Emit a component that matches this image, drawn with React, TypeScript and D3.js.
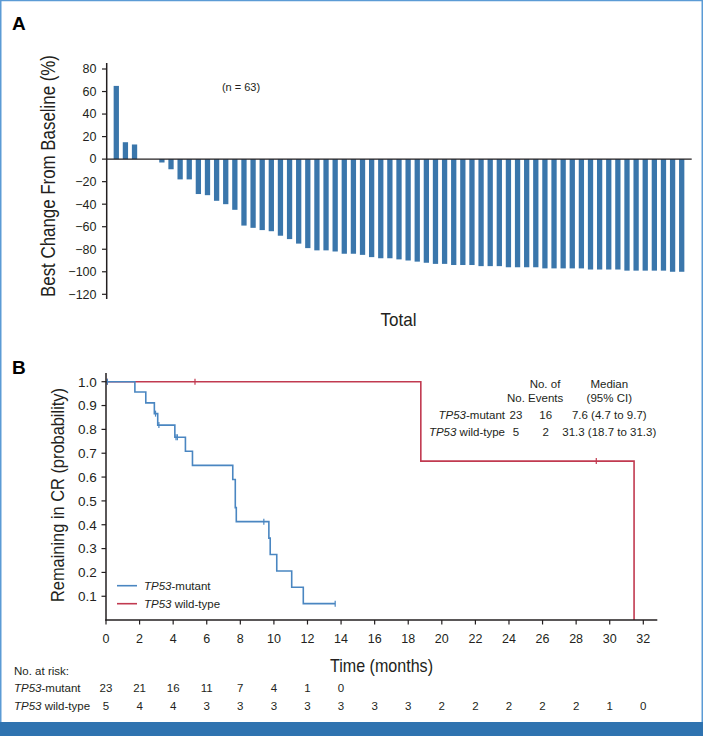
import React from "react";
import * as d3 from "d3";

// ---------- Panel A data ----------
const waterfallValues: number[] = [
  65, 15, 13, 0, 0, -3, -9, -18, -18, -31,
  -32, -37, -40, -45, -59, -61, -63, -64, -68, -71,
  -75, -79, -81, -81, -82, -84, -84, -85, -87, -88,
  -88, -89, -90, -91, -92, -93, -93, -94, -94, -94,
  -95, -95, -95, -96, -96, -96, -96, -97, -97, -97,
  -97, -97, -98, -98, -98, -98, -99, -99, -99, -99,
  -99, -100, -100,
];
const waterfallTicks: number[] = [80, 60, 40, 20, 0, -20, -40, -60, -80, -100, -120];

// ---------- Panel B data ----------
const mutantStepTimes: number[] = [0, 1.72, 2.37, 2.88, 3.08, 4.1, 4.73, 5.15, 7.55, 7.7, 7.76, 9.7, 9.78, 10.17, 11.06, 11.75];
const mutantStepSurv: number[] = [1.0, 0.957, 0.911, 0.866, 0.818, 0.767, 0.708, 0.649, 0.59, 0.472, 0.413, 0.344, 0.275, 0.206, 0.138, 0.069];
const mutantEnd = 13.65;
const mutantCensors: number[] = [0.08, 2.95, 3.15, 4.17, 4.25, 9.4, 13.65];

const wildStepTimes: number[] = [0, 18.75, 31.45];
const wildStepSurv: number[] = [1.0, 0.667, 0];
const wildEnd = 31.45;
const wildCensors: number[] = [0.08, 5.3, 29.2];

const kmXTicks: number[] = d3.range(0, 33, 2);
const kmYTicks: number[] = [0.1, 0.2, 0.3, 0.4, 0.5, 0.6, 0.7, 0.8, 0.9, 1.0];

const riskTimes: number[] = d3.range(0, 33, 2);
const riskMutant: number[] = [23, 21, 16, 11, 7, 4, 1, 0];
const riskWild: number[] = [5, 4, 4, 3, 3, 3, 3, 3, 3, 3, 2, 2, 2, 2, 2, 1, 0];

const tableRows = [
  { italic: "TP53", rest: "-mutant", n: "23", events: "16", median: "7.6 (4.7 to 9.7)" },
  { italic: "TP53", rest: " wild-type", n: "5", events: "2", median: "31.3 (18.7 to 31.3)" },
];

const BLUE = "#4a86c1";
const RED = "#c13a50";
const BAR = "#3a76ab";
const AXIS = "#231f20";
const FONT = "'Liberation Sans', Arial, Helvetica, sans-serif";

function stepAt(times: number[], surv: number[], t: number): number {
  const i = d3.bisectRight(times, t) - 1;
  return surv[Math.max(0, i)];
}

export default function App() {
  // Panel A scales
  const xA = d3
    .scaleBand<number>()
    .domain(d3.range(waterfallValues.length))
    .range([106.7, 691.3])
    .paddingInner(0.42)
    .paddingOuter(0.762);
  const yA = d3.scaleLinear().domain([-120, 80]).range([294.3, 69]);

  // Panel B scales
  const xB = d3.scaleLinear().domain([0, 32]).range([106, 643.3]);
  const yB = d3.scaleLinear().domain([0, 1]).range([620.1, 381.7]);

  const line = d3
    .line<[number, number]>()
    .x((d) => xB(d[0]))
    .y((d) => yB(d[1]))
    .curve(d3.curveStepAfter);

  const mutantPts: [number, number][] = mutantStepTimes.map((t, i) => [t, mutantStepSurv[i]] as [number, number]);
  mutantPts.push([mutantEnd, mutantStepSurv[mutantStepSurv.length - 1]]);
  const wildPts: [number, number][] = wildStepTimes.map((t, i) => [t, wildStepSurv[i]] as [number, number]);
  wildPts.push([wildEnd, 0]);

  const fmtA = d3.format("d");

  return (
    <svg
      width={703}
      height={736}
      viewBox="0 0 703 736"
      style={{ position: "absolute", left: 0, top: 0, background: "#fff" }}
      fontFamily={FONT}
    >
      {/* frame */}
      <rect x={0.75} y={0.5} width={701.5} height={735} fill="none" stroke="#5b9bd5" strokeWidth={1.5} />
      <rect x={0} y={722} width={703} height={14} fill="#2f73b0" />

      {/* ---------------- Panel A ---------------- */}
      <text x={12} y={30} fontSize={19} fontWeight="bold" fill="#000">A</text>

      {waterfallValues.map((v, i) => (
        <rect
          key={i}
          x={xA(i)}
          width={xA.bandwidth()}
          y={yA(Math.max(0, v))}
          height={Math.abs(yA(v) - yA(0))}
          fill={BAR}
        />
      ))}
      <line x1={106.7} x2={691.7} y1={yA(0)} y2={yA(0)} stroke={AXIS} strokeWidth={1.3} />
      <line x1={106.7} x2={106.7} y1={63} y2={299} stroke={AXIS} strokeWidth={1.5} />
      {waterfallTicks.map((t) => (
        <g key={t}>
          <line x1={102} x2={106.7} y1={yA(t)} y2={yA(t)} stroke={AXIS} strokeWidth={1.2} />
          <text x={96.5} y={yA(t)} dy="0.35em" textAnchor="end" fontSize={12.5} fill="#231f20">
            {t < 0 ? "\u2212" + fmtA(-t) : fmtA(t)}
          </text>
        </g>
      ))}
      <text
        transform="translate(55,176) rotate(-90)"
        textAnchor="middle"
        fontSize={19.5}
        fill="#231f20"
        textLength={242}
        lengthAdjust="spacingAndGlyphs"
      >
        Best Change From Baseline (%)
      </text>
      <text x={241} y={91} textAnchor="middle" fontSize={11} fill="#231f20">(n = 63)</text>
      <text x={398.5} y={326} textAnchor="middle" fontSize={19} fill="#231f20" textLength={36} lengthAdjust="spacingAndGlyphs">
        Total
      </text>

      {/* ---------------- Panel B ---------------- */}
      <text x={12} y={373.5} fontSize={19} fontWeight="bold" fill="#000">B</text>

      <path d={line(wildPts) || ""} fill="none" stroke={RED} strokeWidth={1.6} />
      {wildCensors.map((t, i) => (
        <line key={"wc" + i} x1={xB(t)} x2={xB(t)} y1={yB(stepAt(wildStepTimes, wildStepSurv, t)) - 3} y2={yB(stepAt(wildStepTimes, wildStepSurv, t)) + 3} stroke={RED} strokeWidth={1.2} />
      ))}
      <path d={line(mutantPts) || ""} fill="none" stroke={BLUE} strokeWidth={1.6} />
      {mutantCensors.map((t, i) => (
        <line key={"mc" + i} x1={xB(t)} x2={xB(t)} y1={yB(stepAt(mutantStepTimes, mutantStepSurv, t)) - 3} y2={yB(stepAt(mutantStepTimes, mutantStepSurv, t)) + 3} stroke={BLUE} strokeWidth={1.2} />
      ))}

      {/* axes */}
      <line x1={106} x2={106} y1={373} y2={620.5} stroke={AXIS} strokeWidth={1.5} />
      <line x1={105.3} x2={657.3} y1={620} y2={620} stroke={AXIS} strokeWidth={1.5} />
      {kmYTicks.map((t) => (
        <g key={"yb" + t}>
          <line x1={101.5} x2={106} y1={yB(t)} y2={yB(t)} stroke={AXIS} strokeWidth={1.2} />
          <text x={96.8} y={yB(t)} dy="0.36em" textAnchor="end" fontSize={13.5} fill="#231f20">
            {t.toFixed(1)}
          </text>
        </g>
      ))}
      {kmXTicks.map((t) => (
        <g key={"xb" + t}>
          <line x1={xB(t)} x2={xB(t)} y1={620} y2={624.5} stroke={AXIS} strokeWidth={1.2} />
          <text x={xB(t)} y={642.5} textAnchor="middle" fontSize={12.5} fill="#231f20">
            {t}
          </text>
        </g>
      ))}
      <text
        transform="translate(63.5,495) rotate(-90)"
        textAnchor="middle"
        fontSize={19}
        fill="#231f20"
        textLength={214}
        lengthAdjust="spacingAndGlyphs"
      >
        Remaining in CR (probability)
      </text>
      <text x={381.5} y={672} textAnchor="middle" fontSize={19} fill="#231f20" textLength={103} lengthAdjust="spacingAndGlyphs">
        Time (months)
      </text>

      {/* legend */}
      <line x1={117} x2={137} y1={585.7} y2={585.7} stroke={BLUE} strokeWidth={1.6} />
      <text x={144} y={589.8} fontSize={11.5} fill="#231f20">
        <tspan fontStyle="italic">TP53</tspan>-mutant
      </text>
      <line x1={117} x2={137} y1={603.7} y2={603.7} stroke={RED} strokeWidth={1.6} />
      <text x={144} y={607.8} fontSize={11.5} fill="#231f20">
        <tspan fontStyle="italic">TP53</tspan> wild-type
      </text>

      {/* summary table */}
      <g fontSize={11.5} fill="#231f20">
        <text x={545} y={387.5} textAnchor="middle">No. of</text>
        <text x={516} y={401.5} textAnchor="middle">No.</text>
        <text x={545.7} y={401.5} textAnchor="middle">Events</text>
        <text x={609.3} y={387.5} textAnchor="middle">Median</text>
        <text x={609.3} y={401.5} textAnchor="middle">(95% CI)</text>
        {tableRows.map((r, i) => (
          <g key={"tr" + i}>
            <text x={505} y={418.5 + i * 17.7} textAnchor="end">
              <tspan fontStyle="italic">{r.italic}</tspan>
              {r.rest}
            </text>
            <text x={516} y={418.5 + i * 17.7} textAnchor="middle">{r.n}</text>
            <text x={545.7} y={418.5 + i * 17.7} textAnchor="middle">{r.events}</text>
            <text x={609.3} y={418.5 + i * 17.7} textAnchor="middle">{r.median}</text>
          </g>
        ))}
      </g>

      {/* number at risk */}
      <g fontSize={11.5} fill="#231f20">
        <text x={14} y={674.8}>No. at risk:</text>
        <text x={14} y={691.5}>
          <tspan fontStyle="italic">TP53</tspan>-mutant
        </text>
        <text x={14} y={709.5}>
          <tspan fontStyle="italic">TP53</tspan> wild-type
        </text>
        {riskMutant.map((n, i) => (
          <text key={"rm" + i} x={xB(riskTimes[i])} y={691.5} textAnchor="middle">{n}</text>
        ))}
        {riskWild.map((n, i) => (
          <text key={"rw" + i} x={xB(riskTimes[i])} y={709.5} textAnchor="middle">{n}</text>
        ))}
      </g>
    </svg>
  );
}
